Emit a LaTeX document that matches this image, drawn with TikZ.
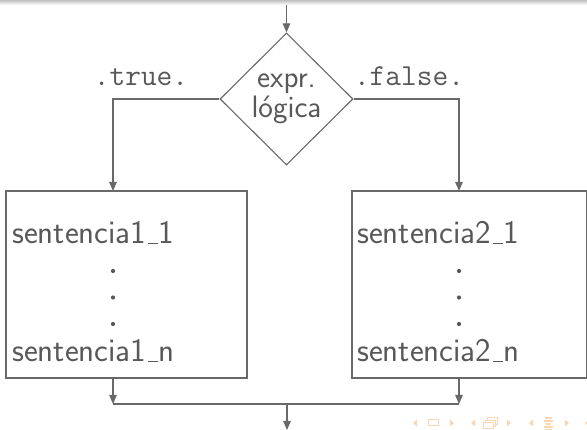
\documentclass[tikz,border=0pt]{standalone}
\usetikzlibrary{shapes.geometric,arrows.meta}
\definecolor{inkgray}{RGB}{88,88,88}
\definecolor{linegray}{RGB}{105,105,105}
\definecolor{navorange}{RGB}{252,214,178}
% short low rule in place of the underscore glyph
\newcommand\lowbar{\leavevmode\kern.06em\vbox{\hrule width.3em height .04em}\kern.02em}
\tikzset{
  flow/.style={draw=linegray, line width=1.1pt},
  arrowflow/.style={flow, -{Triangle[length=9pt,width=7.5pt]}},
  txt/.style={text=inkgray, inner sep=0pt, font=\fontsize{33}{34}\selectfont\sffamily},
  mono/.style={text=inkgray, inner sep=0pt, font=\fontsize{30.5}{31}\selectfont\ttfamily},
  block/.style={draw=linegray, line width=1.1pt, rectangle, inner sep=0pt},
  decision/.style={draw=linegray, line width=1.1pt, diamond, inner sep=0pt, align=center,
    minimum width=133pt, minimum height=132pt, text=inkgray,
    font=\fontsize{31}{30}\selectfont\sffamily},
  vdot/.style={circle, fill=inkgray, inner sep=0pt, minimum size=4.2pt},
  nav/.style={fill=navorange, draw=none},
  navline/.style={draw=navorange, line width=1.2pt}
}
\begin{document}
\begin{tikzpicture}[x=1pt, y=-1pt]
  \useasboundingbox (0,0) rectangle (587,430);
  % frame shadow along the top edge
  \shade[top color=black!25, bottom color=white] (0,0) rectangle (587,5);

  % decision
  \coordinate (in) at (286.5,5);
  \node[decision] (cond) at (286.5,99) {expr.\\lógica};
  \draw[arrowflow] (in) -- (cond.north);

  % branch labels
  \node[mono, anchor=base] (ltrue) at (141,86) {.true.};
  \node[mono, anchor=base] (lfalse) at (409,86) {.false.};

  % statement blocks
  \node[block, minimum width=241pt, minimum height=187pt] (b1) at (126.5,284.5) {};
  \node[block, minimum width=235pt, minimum height=187pt] (b2) at (469.5,284.5) {};

  \coordinate (t1) at (113,191);
  \coordinate (t2) at (459,191);
  \draw[arrowflow] (cond.west) -| (t1);
  \draw[arrowflow] (cond.east) -| (t2);

  % block contents
  \node[txt, anchor=base west] (s11) at (12,244) {sentencia1\lowbar 1};
  \node[txt, anchor=base west] (s1n) at (12,362) {sentencia1\lowbar n};
  \node[vdot] (d11) at (113,271) {};
  \node[vdot] (d12) at (113,297.5) {};
  \node[vdot] (d13) at (113,324) {};

  \node[txt, anchor=base west] (s21) at (357,244) {sentencia2\lowbar 1};
  \node[txt, anchor=base west] (s2n) at (357,362) {sentencia2\lowbar n};
  \node[vdot] (d21) at (459,271) {};
  \node[vdot] (d22) at (459,297.5) {};
  \node[vdot] (d23) at (459,324) {};

  % merge
  \coordinate (o1) at (113,378);
  \coordinate (o2) at (459,378);
  \coordinate (m1) at (113,404);
  \coordinate (m2) at (459,404);
  \coordinate (mc) at (287,404);
  \coordinate (out) at (287,430);
  \draw[arrowflow] (o1) -- (m1);
  \draw[arrowflow] (o2) -- (m2);
  \draw[flow] (m1) -- (m2);
  \draw[arrowflow] (mc) -- (out);

  % navigation symbols
  \fill[nav] (417,419.5) -- (413,423) -- (417,426.5) -- cycle;
  \draw[navline, line width=1pt] (428,420) rectangle (438,426);
  \fill[nav] (450,419.5) -- (454,423) -- (450,426.5) -- cycle;
  \fill[nav] (475,419.5) -- (471,423) -- (475,426.5) -- cycle;
  \draw[navline, line width=1pt] (487,418) rectangle (497,424.5);
  \draw[navline, line width=1pt, fill=white] (485,420.5) rectangle (495,427);
  \draw[navline, line width=1pt, fill=white] (483,422.5) rectangle (493,429);
  \fill[nav] (507,419.5) -- (511,423) -- (507,426.5) -- cycle;
  \fill[nav] (533,419.5) -- (529,423) -- (533,426.5) -- cycle;
  \draw[navline] (545,418) -- (552,418);
  \draw[navline] (544,421) -- (553,421);
  \draw[navline] (546,424) -- (551,424);
  \draw[navline] (544,427) -- (553,427);
  \draw[navline] (545,430) -- (552,430);
  \fill[nav] (565,419.5) -- (569,423) -- (565,426.5) -- cycle;
  \fill[nav] (589,419.5) -- (585,423) -- (589,426.5) -- cycle;
\end{tikzpicture}
\end{document}
